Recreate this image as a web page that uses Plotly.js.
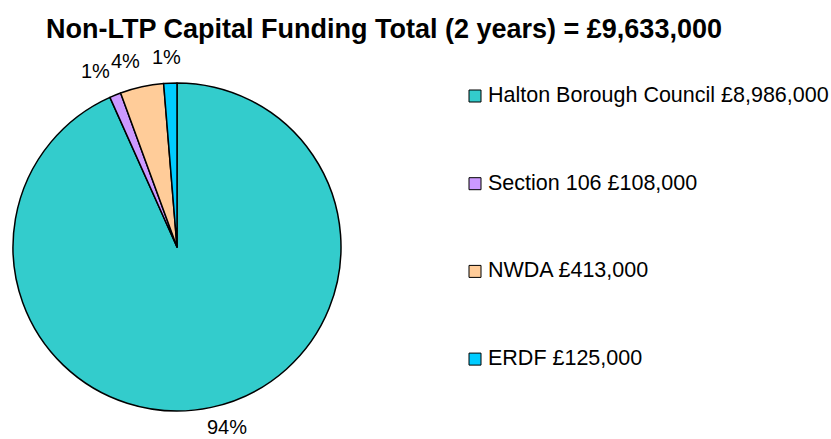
<!DOCTYPE html>
<html>
<head>
<meta charset="utf-8">
<script src="https://cdn.plot.ly/plotly-3.0.1.min.js"></script>
<style>html,body{margin:0;padding:0;background:#fff;}#chart{width:831px;height:439px;}</style>
</head>
<body>
<div id="chart"></div>
<script>
const categories = ['Halton Borough Council', 'Section 106', 'NWDA', 'ERDF'];
const amounts = [8986000, 108000, 413000, 125000];
const amountLabels = ['£8,986,000', '£108,000', '£413,000', '£125,000'];
const percentLabels = ['94%', '1%', '4%', '1%'];
const colors = ['#33CCCC', '#CC99FF', '#FFCC99', '#00CCFF'];
const titleText = 'Non-LTP Capital Funding Total (2 years) = £9,633,000';

const W = 831, H = 439;
const FONT = 'Liberation Sans, Arial, Helvetica, sans-serif';

// pie geometry (pixels)
const pieL = 12, pieR = 342, pieT = 83, pieB = 411;
const cx = (pieL + pieR) / 2, cy = (pieT + pieB) / 2, R = (pieR - pieL) / 2;

const trace = {
  type: 'pie',
  labels: categories,
  values: amounts,
  textinfo: 'none',
  sort: false,
  direction: 'clockwise',
  rotation: 0,
  marker: {colors: colors, line: {color: '#000', width: 1.5}},
  domain: {x: [pieL / W, pieR / W], y: [1 - pieB / H, 1 - pieT / H]},
  showlegend: false,
  hoverinfo: 'label+value+percent'
};

const shapes = [], annotations = [];

// percent labels placed outside each slice at its mid-angle (computed from the values)
const total = amounts.reduce((a, b) => a + b, 0);
let cum = 0;
const labelR = R + 22, labelShift = 11, labelLift = 3;
amounts.forEach((v, i) => {
  const mid = (cum + v / 2) / total * 2 * Math.PI;
  cum += v;
  const s = Math.sin(mid), c = Math.cos(mid);
  const px = cx + labelR * s + Math.sign(s) * Math.min(labelShift, Math.abs(s) * 80);
  const py = cy - labelR * c - labelLift;
  annotations.push({
    xref: 'paper', yref: 'paper',
    x: px / W, y: 1 - py / H,
    xanchor: 'center', yanchor: 'middle',
    text: percentLabels[i], showarrow: false,
    borderpad: 0,
    font: {family: FONT, size: 20, color: '#000'}
  });
});

// custom legend built from the arrays
const legendX = 469, legendTextX = 486, legendY0 = 96, legendStep = 87.7, box = 12;
categories.forEach((c, i) => {
  const ly = legendY0 + i * legendStep;
  shapes.push({
    type: 'rect', xref: 'paper', yref: 'paper',
    x0: legendX / W, x1: (legendX + box) / W,
    y0: 1 - (ly + box / 2) / H, y1: 1 - (ly - box / 2) / H,
    fillcolor: colors[i], line: {color: '#000', width: 1}
  });
  annotations.push({
    xref: 'paper', yref: 'paper',
    x: legendTextX / W, y: 1 - (ly - 1) / H,
    xanchor: 'left', yanchor: 'middle',
    text: c + ' ' + amountLabels[i],
    showarrow: false,
    font: {family: FONT, size: 21.5, color: '#000'}
  });
});

const layout = {
  width: W, height: H,
  margin: {l: 0, r: 0, t: 0, b: 0},
  paper_bgcolor: '#fff',
  plot_bgcolor: '#fff',
  title: {
    text: '<b>' + titleText + '</b>',
    x: 384 / W, xanchor: 'center', xref: 'paper',
    y: 1 - 29 / H, yanchor: 'middle', yref: 'container',
    font: {family: FONT, size: 27, color: '#000'}
  },
  shapes: shapes,
  annotations: annotations,
  showlegend: false
};

Plotly.newPlot('chart', [trace], layout, {displayModeBar: false, staticPlot: true});
</script>
</body>
</html>
